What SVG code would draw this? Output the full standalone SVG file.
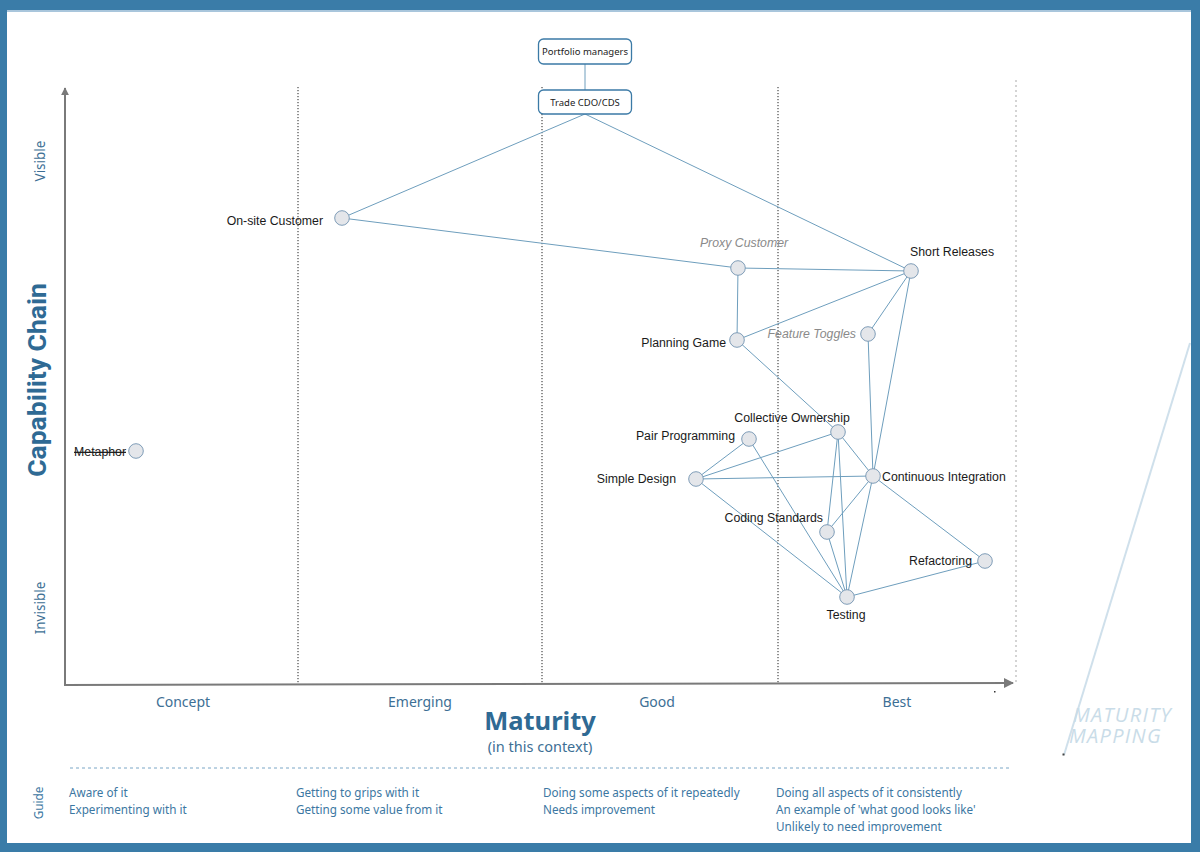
<svg xmlns="http://www.w3.org/2000/svg" width="1200" height="852" viewBox="0 0 1200 852">
<defs>
<style>
.axl{font-family:"Noto Sans","Liberation Sans",sans-serif;fill:#3d6f95}
.lab{font-family:"Liberation Sans",Arial,sans-serif;font-size:12.3px;fill:#1a1a1a}
.ital{font-family:"Liberation Sans",Arial,sans-serif;font-size:12.3px;fill:#8a8a8a;font-style:italic}
.nd{fill:#e4e6ea;stroke:#7f9db8;stroke-width:1}
.edge{stroke:#6e9ebd;stroke-width:1;fill:none}
.vdot{stroke:#222;stroke-width:1;stroke-dasharray:1.2 1.8}
.guide{font-family:"Noto Sans","Liberation Sans",sans-serif;font-size:11.7px;fill:#3c77a2}
.box{fill:#fff;stroke:#3b7aa6;stroke-width:1.3}
.boxt{font-family:"Noto Sans","Liberation Sans",sans-serif;font-size:9.5px;fill:#222;text-anchor:middle}
.logo{font-family:"Open Sans","Noto Sans",sans-serif;font-style:italic;font-size:20px;fill:#c9dce8;letter-spacing:1.3px}
</style>
<marker id="arr" viewBox="0 0 10 10" refX="9" refY="5" markerWidth="8" markerHeight="8" orient="auto" markerUnits="userSpaceOnUse">
<path d="M0,0 L10,5 L0,10 z" fill="#7a7a7a"/>
</marker>
<marker id="arr2" viewBox="0 0 10 10" refX="9" refY="5" markerWidth="14" markerHeight="10" orient="auto" markerUnits="userSpaceOnUse">
<path d="M0,0 L10,5 L0,10 z" fill="#7a7a7a"/>
</marker>
</defs>

<!-- frame -->
<rect x="0" y="0" width="1200" height="852" fill="#ffffff"/>
<rect x="0" y="0" width="1200" height="10" fill="#3a7ca8"/>
<rect x="0" y="10" width="1200" height="2" fill="#a9c6dc"/>
<rect x="0" y="0" width="7" height="852" fill="#3a7ca8"/>
<rect x="1191" y="0" width="9" height="852" fill="#3a7ca8"/>
<rect x="0" y="843" width="1200" height="9" fill="#3a7ca8"/>

<!-- logo -->
<g id="logo">
<line x1="1190" y1="343" x2="1064" y2="755" stroke="#cfe0eb" stroke-width="2"/>
<rect x="1062.5" y="753.5" width="2" height="2" fill="#444"/>
<text class="logo" x="1073" y="722">MATURITY</text>
<text class="logo" x="1069" y="743">MAPPING</text>
</g>

<!-- grid -->
<g id="grid">
<line class="vdot" x1="298" y1="87" x2="298" y2="684"/>
<line class="vdot" x1="542" y1="87" x2="542" y2="684"/>
<line class="vdot" x1="778" y1="87" x2="778" y2="684"/>
<line x1="1016" y1="80" x2="1016" y2="682" stroke="#d4d4d4" stroke-width="2" stroke-dasharray="2 3"/>
<line x1="65" y1="686" x2="65" y2="88" stroke="#7a7a7a" stroke-width="2" marker-end="url(#arr)"/>
<line x1="64" y1="685" x2="1013" y2="683" stroke="#7a7a7a" stroke-width="2" marker-end="url(#arr2)"/>
<rect x="994" y="691" width="1.5" height="1.5" fill="#333"/>
</g>

<!-- axis labels -->
<g id="axis-labels">
<text class="axl" x="183" y="707" font-size="14" text-anchor="middle">Concept</text>
<text class="axl" x="420" y="707" font-size="14" text-anchor="middle">Emerging</text>
<text class="axl" x="657" y="707" font-size="14" text-anchor="middle">Good</text>
<text class="axl" x="897" y="707" font-size="14" text-anchor="middle">Best</text>
<text x="540" y="730" font-family="'Noto Sans','Liberation Sans',sans-serif" font-weight="bold" font-size="25.5" fill="#2f6a94" text-anchor="middle">Maturity</text>
<text class="axl" x="540" y="752" font-size="14.5" text-anchor="middle">(in this context)</text>
<text transform="translate(46,380) rotate(-90)" font-family="Roboto,'Liberation Sans',sans-serif" font-weight="bold" font-size="26.5" fill="#2f6a94" text-anchor="middle">Capability Chain</text>
<text class="axl" transform="translate(45,161) rotate(-90)" font-size="13.5" text-anchor="middle">Visible</text>
<text class="axl" transform="translate(45,608) rotate(-90)" font-size="13.5" text-anchor="middle">Invisible</text>
</g>

<!-- guide -->
<g id="guide">
<line x1="70" y1="768" x2="1012" y2="768" stroke="#7aa6c6" stroke-width="1" stroke-dasharray="3 3"/>
<text class="guide" transform="translate(43,803) rotate(-90)" font-size="13" text-anchor="middle">Guide</text>
<text class="guide" x="69" y="797">Aware of it</text>
<text class="guide" x="69" y="814">Experimenting with it</text>
<text class="guide" x="296" y="797">Getting to grips with it</text>
<text class="guide" x="296" y="814">Getting some value from it</text>
<text class="guide" x="543" y="797">Doing some aspects of it repeatedly</text>
<text class="guide" x="543" y="814">Needs improvement</text>
<text class="guide" x="776" y="797">Doing all aspects of it consistently</text>
<text class="guide" x="776" y="814">An example of 'what good looks like'</text>
<text class="guide" x="776" y="831">Unlikely to need improvement</text>
</g>

<!-- connectors -->
<g id="connectors">
<line class="edge" x1="585" y1="64" x2="585" y2="90"/>
<line class="edge" x1="585" y1="114" x2="342" y2="218"/>
<line class="edge" x1="585" y1="114" x2="911" y2="271"/>
<line class="edge" x1="342" y1="218" x2="738" y2="268"/>
<line class="edge" x1="738" y1="268" x2="911" y2="271"/>
<line class="edge" x1="738" y1="268" x2="737" y2="340"/>
<line class="edge" x1="737" y1="340" x2="911" y2="271"/>
<line class="edge" x1="911" y1="271" x2="868" y2="334"/>
<line class="edge" x1="911" y1="271" x2="873" y2="476"/>
<line class="edge" x1="868" y1="334" x2="873" y2="476"/>
<line class="edge" x1="737" y1="340" x2="838" y2="432"/>
<line class="edge" x1="838" y1="432" x2="873" y2="476"/>
<line class="edge" x1="838" y1="432" x2="827" y2="532"/>
<line class="edge" x1="838" y1="432" x2="847" y2="597"/>
<line class="edge" x1="749" y1="439" x2="696" y2="479"/>
<line class="edge" x1="749" y1="439" x2="847" y2="597"/>
<line class="edge" x1="696" y1="479" x2="838" y2="432"/>
<line class="edge" x1="696" y1="479" x2="873" y2="476"/>
<line class="edge" x1="696" y1="479" x2="847" y2="597"/>
<line class="edge" x1="873" y1="476" x2="827" y2="532"/>
<line class="edge" x1="873" y1="476" x2="847" y2="597"/>
<line class="edge" x1="873" y1="476" x2="985" y2="561"/>
<line class="edge" x1="827" y1="532" x2="847" y2="597"/>
<line class="edge" x1="847" y1="597" x2="985" y2="561"/>
</g>

<!-- nodes -->
<g id="portfolio-managers"><rect class="box" x="538.5" y="39" width="93" height="25" rx="5"/><text class="boxt" x="585" y="55">Portfolio managers</text></g>
<g id="trade-cdo-cds"><rect class="box" x="538.5" y="90" width="93" height="24" rx="5"/><text class="boxt" x="585" y="105.5">Trade CDO/CDS</text></g>

<g id="on-site-customer"><circle class="nd" cx="342" cy="218" r="7.3"/><text class="lab" x="323" y="225" text-anchor="end">On-site Customer</text></g>
<g id="proxy-customer"><circle class="nd" cx="738" cy="268" r="7.3"/><text class="ital" x="744" y="247" text-anchor="middle">Proxy Customer</text></g>
<g id="short-releases"><circle class="nd" cx="911" cy="271" r="7.3"/><text class="lab" x="910" y="256">Short Releases</text></g>
<g id="planning-game"><circle class="nd" cx="737" cy="340" r="7.3"/><text class="lab" x="726" y="347" text-anchor="end">Planning Game</text></g>
<g id="feature-toggles"><circle class="nd" cx="868" cy="334" r="7.3"/><text class="ital" x="856" y="338" text-anchor="end">Feature Toggles</text></g>
<g id="collective-ownership"><circle class="nd" cx="838" cy="432" r="7.3"/><text class="lab" x="792" y="422" text-anchor="middle">Collective Ownership</text></g>
<g id="pair-programming"><circle class="nd" cx="749" cy="439" r="7.3"/><text class="lab" x="735" y="440" text-anchor="end">Pair Programming</text></g>
<g id="simple-design"><circle class="nd" cx="696" cy="479" r="7.3"/><text class="lab" x="676" y="483" text-anchor="end">Simple Design</text></g>
<g id="continuous-integration"><circle class="nd" cx="873" cy="476" r="7.3"/><text class="lab" x="882" y="481">Continuous Integration</text></g>
<g id="coding-standards"><circle class="nd" cx="827" cy="532" r="7.3"/><text class="lab" x="823" y="522" text-anchor="end">Coding Standards</text></g>
<g id="refactoring"><circle class="nd" cx="985" cy="561" r="7.3"/><text class="lab" x="972" y="565" text-anchor="end">Refactoring</text></g>
<g id="testing"><circle class="nd" cx="847" cy="597" r="7.3"/><text class="lab" x="846" y="619" text-anchor="middle">Testing</text></g>
<g id="metaphor"><circle class="nd" cx="136" cy="451" r="7.3"/><text class="lab" x="126" y="456" text-anchor="end" text-decoration="line-through">Metaphor</text></g>
</svg>
